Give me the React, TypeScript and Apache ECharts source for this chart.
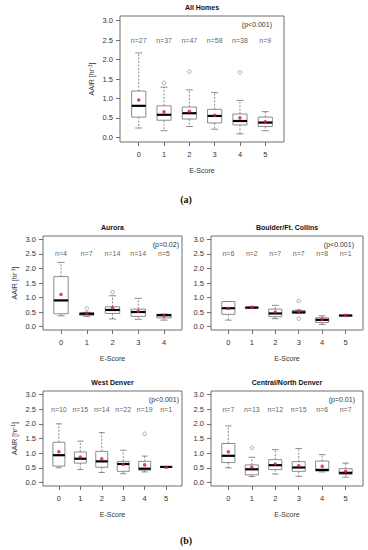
import React, { useEffect, useRef } from "react";
import * as echarts from "echarts";

// ---------- data ----------
const panelTitles = ["All Homes", "Aurora", "Boulder/Ft. Collins", "West Denver", "Central/North Denver"];
const pValues = ["(p<0.001)", "(p=0.02)", "(p<0.001)", "(p<0.001)", "(p=0.01)"];
const yTicks = [0, 0.5, 1, 1.5, 2, 2.5, 3];

// n per E-Score
const nAll = [27, 37, 47, 58, 38, 9];
const nAurora = [4, 7, 14, 14, 5];
const nBoulder = [6, 2, 7, 7, 8, 1];
const nWest = [10, 15, 14, 22, 19, 1];
const nCentral = [7, 13, 12, 15, 6, 7];

// box stats per E-Score: [lower whisker, Q1, median, Q3, upper whisker]
const boxAll = [
  [0.24, 0.52, 0.81, 1.19, 2.17],
  [0.17, 0.44, 0.58, 0.81, 1.29],
  [0.28, 0.47, 0.62, 0.78, 1.22],
  [0.21, 0.37, 0.55, 0.72, 1.15],
  [0.09, 0.32, 0.42, 0.6, 0.95],
  [0.17, 0.28, 0.38, 0.52, 0.66],
];
const boxAurora = [
  [0.37, 0.44, 0.9, 1.72, 2.21],
  [0.35, 0.39, 0.44, 0.47, 0.49],
  [0.26, 0.45, 0.57, 0.68, 1.06],
  [0.25, 0.35, 0.5, 0.6, 0.97],
  [0.22, 0.3, 0.39, 0.42, 0.43],
];
const boxBoulder = [
  [0.22, 0.42, 0.63, 0.86, 0.86],
  [0.64, 0.64, 0.65, 0.67, 0.67],
  [0.27, 0.34, 0.45, 0.6, 0.73],
  [0.46, 0.46, 0.49, 0.55, 0.57],
  [0.07, 0.14, 0.23, 0.3, 0.37],
  [0.38, 0.38, 0.38, 0.38, 0.38],
];
const boxWest = [
  [0.5, 0.56, 0.93, 1.37, 2.0],
  [0.44, 0.66, 0.81, 1.04, 1.41],
  [0.34, 0.52, 0.72, 1.06, 1.7],
  [0.3, 0.38, 0.63, 0.72, 1.1],
  [0.36, 0.42, 0.47, 0.72, 0.9],
  [0.53, 0.53, 0.53, 0.53, 0.53],
];
const boxCentral = [
  [0.5, 0.68, 0.91, 1.33, 1.93],
  [0.2, 0.26, 0.45, 0.6, 0.86],
  [0.29, 0.44, 0.59, 0.78, 1.12],
  [0.21, 0.38, 0.51, 0.71, 1.16],
  [0.36, 0.39, 0.43, 0.73, 0.95],
  [0.18, 0.28, 0.33, 0.47, 0.66],
];

// mean per E-Score
const meanAll = [0.96, 0.66, 0.67, 0.57, 0.5, 0.4];
const meanAurora = [1.1, 0.46, 0.64, 0.53, 0.37];
const meanBoulder = [0.62, 0.66, 0.5, 0.53, 0.25, 0.39];
const meanWest = [1.05, 0.87, 0.81, 0.62, 0.6, 0.52];
const meanCentral = [1.05, 0.52, 0.63, 0.57, 0.55, 0.38];

// outliers: [E-Score, value]
const outAll = [[1, 1.4], [2, 1.69], [4, 1.67]];
const outAurora = [[1, 0.62], [2, 1.18]];
const outBoulder = [[3, 0.88], [3, 0.27]];
const outWest = [[4, 1.66]];
const outCentral = [[1, 1.18]];

// ---------- layout ----------
const panels = [
  { n: nAll, box: boxAll, mean: meanAll, out: outAll, left: 120, top: 16, width: 164, height: 126, yName: true, pGap: 12 },
  { n: nAurora, box: boxAurora, mean: meanAurora, out: outAurora, left: 43, top: 236, width: 139, height: 94, yName: true, pGap: 3 },
  { n: nBoulder, box: boxBoulder, mean: meanBoulder, out: outBoulder, left: 211, top: 236, width: 152, height: 94, yName: false, pGap: 9 },
  { n: nWest, box: boxWest, mean: meanWest, out: outWest, left: 43, top: 391, width: 139, height: 95, yName: true, pGap: 3 },
  { n: nCentral, box: boxCentral, mean: meanCentral, out: outCentral, left: 211, top: 391, width: 152, height: 95, yName: false, pGap: 8 },
];

const FONT = "'Liberation Sans', Arial, sans-serif";
const TXT = "#333";
const LINE = "#6e6e6e";

export default function App() {
  const ref = useRef<HTMLDivElement>(null);
  useEffect(() => {
    if (!ref.current) return;
    const chart = echarts.init(ref.current, undefined, { renderer: "svg" });
    const grid: any[] = [];
    const xAxis: any[] = [];
    const yAxis: any[] = [];
    const series: any[] = [];
    const graphic: any[] = [];

    panels.forEach((p, gi) => {
      const k = p.n.length;
      const cats = p.n.map((_, i) => i);
      grid.push({ left: p.left, top: p.top, width: p.width, height: p.height, show: true, borderColor: LINE, borderWidth: 1, backgroundColor: "transparent" });
      xAxis.push({
        type: "value", gridIndex: gi, position: "bottom", min: -0.5 - 0.04 * k, max: k - 0.5 + 0.04 * k,
        splitLine: { show: false }, axisLine: { show: false, onZero: false },
        axisTick: { show: true, inside: false, length: 4, lineStyle: { color: LINE }, customValues: cats },
        axisLabel: { color: TXT, fontSize: 7.5, fontFamily: FONT, margin: 8, customValues: cats, formatter: (v: number) => String(Math.round(v)) },
        name: "E-Score", nameLocation: "middle", nameGap: 25,
        nameTextStyle: { color: TXT, fontSize: 7, fontFamily: FONT },
      });
      yAxis.push({
        type: "value", gridIndex: gi, position: "left", min: -0.12, max: 3.12,
        splitLine: { show: false }, axisLine: { show: false, onZero: false },
        axisTick: { show: true, length: 4, lineStyle: { color: LINE }, customValues: yTicks },
        axisLabel: { color: TXT, fontSize: 7.5, fontFamily: FONT, margin: 7, customValues: yTicks, formatter: (v: number) => v.toFixed(1) },
        name: p.yName ? "AAIR [hr{sup|-1}]" : "", nameLocation: "middle", nameGap: 24, nameRotate: 90,
        nameTextStyle: { color: TXT, fontSize: 7, fontFamily: FONT, rich: { sup: { fontSize: 5, color: TXT, fontFamily: FONT, verticalAlign: "top", padding: [0, 0, 4, 0] } } },
      });

      series.push({
        type: "custom", xAxisIndex: gi, yAxisIndex: gi,
        data: p.box.map((b, i) => [i, ...b]),
        encode: { x: 0, y: [1, 2, 3, 4, 5] },
        renderItem: (params: any, api: any) => {
          const x = api.value(0);
          const lo = api.value(1), q1 = api.value(2), md = api.value(3), q3 = api.value(4), hi = api.value(5);
          const hw = 0.28, cw = 0.14;
          const [xl, yq3] = api.coord([x - hw, q3]);
          const [xr, yq1] = api.coord([x + hw, q1]);
          const [xc, ylo] = api.coord([x, lo]);
          const [, yhi] = api.coord([x, hi]);
          const [, ymd] = api.coord([x, md]);
          const [cl] = api.coord([x - cw, 0]);
          const [cr] = api.coord([x + cw, 0]);
          const ws = { stroke: LINE, lineWidth: 0.8, lineDash: [2, 1.5] };
          const ss = { stroke: LINE, lineWidth: 0.8 };
          return {
            type: "group",
            children: [
              { type: "line", shape: { x1: xc, y1: yq3, x2: xc, y2: yhi }, style: ws },
              { type: "line", shape: { x1: xc, y1: yq1, x2: xc, y2: ylo }, style: ws },
              { type: "line", shape: { x1: cl, y1: yhi, x2: cr, y2: yhi }, style: ss },
              { type: "line", shape: { x1: cl, y1: ylo, x2: cr, y2: ylo }, style: ss },
              { type: "rect", shape: { x: xl, y: yq3, width: xr - xl, height: Math.max(yq1 - yq3, 0.5) }, style: { fill: "#fff", stroke: LINE, lineWidth: 0.8 } },
              { type: "line", shape: { x1: xl, y1: ymd, x2: xr, y2: ymd }, style: { stroke: "#000", lineWidth: 2.2 } },
            ],
          };
        },
        z: 2,
      });
      series.push({
        type: "scatter", xAxisIndex: gi, yAxisIndex: gi, symbol: "circle", symbolSize: 3.6,
        itemStyle: { color: "#fff", borderColor: LINE, borderWidth: 0.7 },
        data: p.out, z: 3,
      });
      series.push({
        type: "scatter", xAxisIndex: gi, yAxisIndex: gi, symbol: "circle", symbolSize: 3.5,
        itemStyle: { color: "#e0141e" },
        data: p.mean.map((m, i) => [i, m]), z: 4,
      });
      series.push({
        type: "scatter", xAxisIndex: gi, yAxisIndex: gi, symbolSize: 1,
        itemStyle: { color: "rgba(0,0,0,0)" },
        label: { show: true, position: "inside", color: TXT, fontSize: 7, fontFamily: FONT, formatter: (q: any) => "n=" + q.value[2] },
        data: p.n.map((n, i) => [i, 2.5, n]), z: 4,
      });

      graphic.push({
        type: "text", x: p.left + p.width - p.pGap, y: p.top + 8,
        style: { text: pValues[gi], fill: TXT, font: `7px ${FONT}`, align: "right", verticalAlign: "middle" },
      });
      graphic.push({
        type: "text", x: p.left + p.width / 2, y: p.top - 9,
        style: { text: panelTitles[gi], fill: "#111", font: `bold 7px ${FONT}`, align: "center", verticalAlign: "middle" },
      });
    });

    graphic.push({ type: "text", x: 186, y: 199, style: { text: "(a)", fill: "#111", font: "bold 10px 'Liberation Serif', serif", align: "center", verticalAlign: "middle" } });
    graphic.push({ type: "text", x: 186, y: 540, style: { text: "(b)", fill: "#111", font: "bold 10px 'Liberation Serif', serif", align: "center", verticalAlign: "middle" } });

    chart.setOption({ animation: false, backgroundColor: "#fff", grid, xAxis, yAxis, series, graphic });
    return () => chart.dispose();
  }, []);
  return <div ref={ref} style={{ position: "absolute", left: 0, top: 0, width: 368, height: 550 }} />;
}
